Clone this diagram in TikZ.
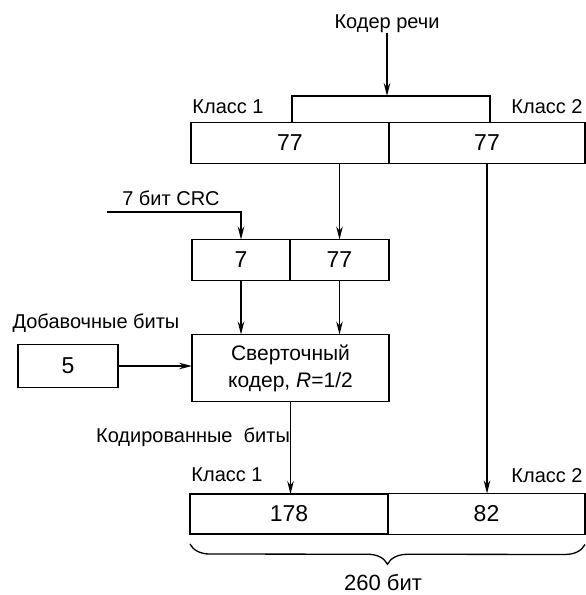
\documentclass[tikz,border=0pt]{standalone}
\usepackage{fontspec}
\setmainfont{Liberation Sans}
\usetikzlibrary{arrows.meta, positioning, decorations.pathreplacing}

\begin{document}
\begin{tikzpicture}[
  x=1pt, y=-1pt,
  cell/.style={draw, line width=1.7pt, inner sep=0pt, outer sep=0pt, minimum height=41pt, font=\fontsize{23}{26}\selectfont},
  lbl/.style={font=\fontsize{20}{23}\selectfont, inner sep=0pt},
  arrow/.style={-{Stealth[length=13pt, width=6.5pt]}, line width=1.3pt}
]
  \useasboundingbox (0,0) rectangle (586,595);

  % speech coder output, split into two classes
  \node[lbl] (src) at (387,24) {Кодер речи};
  \node[cell, minimum width=198pt] (in1) at (290,143) {77};
  \node[cell, minimum width=196pt, right=0pt of in1] (in2) {77};
  \node[lbl] (cls1a) at (228,107) {Класс 1};
  \node[lbl] (cls2a) at (547,107) {Класс 2};
  \coordinate (split) at (387,96);
  \coordinate (brL) at (292,96);
  \coordinate (brR) at (490,96);
  \draw[line width=1.3pt] (brL |- in1.north) -- (brL) -- (brR) -- (brR |- in2.north);
  \draw[arrow] (src) -- (split);

  % CRC block
  \node[cell, minimum width=98pt] (crc) at (241,260) {7};
  \node[cell, minimum width=99pt, right=0pt of crc] (data) {77};
  \node[lbl] (crclbl) at (171,198) {7 бит CRC};
  \coordinate (crcin) at (107,212);
  \draw[arrow] (crcin) -| (crc.north);
  \draw[arrow] (data |- in1.south) -- (data.north);

  % convolutional coder
  \node[cell, minimum width=197pt, minimum height=67pt, align=center, font=\fontsize{21}{27}\selectfont] (conv) at (290.5,368) {Сверточный\\кодер, \textit{R}=1/2};
  \draw[arrow] (crc.south) -- (crc.south |- conv.north);
  \draw[arrow] (data.south) -- (data.south |- conv.north);
  \node[lbl] (padlbl) at (96,323) {Добавочные биты};
  \node[cell, minimum width=100pt, minimum height=43pt] (pad) at (68,366) {5};
  \draw[arrow] (pad.east) -- (pad.east -| conv.west);

  % output frame
  \node[lbl] (codedlbl) at (193,437) {Кодированные\ \ биты};
  \node[cell, minimum width=198pt, minimum height=40pt] (out1) at (289,514) {178};
  \node[cell, minimum width=197pt, right=0pt of out1] (out2) {82};
  \node[lbl] (cls1b) at (227,475) {Класс 1};
  \node[lbl] (cls2b) at (547,476) {Класс 2};
  \draw[arrow] (conv.south) -- (conv.south |- out1.north);
  \draw[arrow] (in2.south) -- (in2.south |- out2.north);

  \draw[line width=1.3pt, decorate, decoration={brace, mirror, amplitude=20pt}] ([yshift=-10pt]out1.south west) -- ([yshift=-10pt]out2.south east);
  \node[lbl, font=\fontsize{22}{25}\selectfont] (total) at (383,583) {260 бит};
\end{tikzpicture}
\end{document}
